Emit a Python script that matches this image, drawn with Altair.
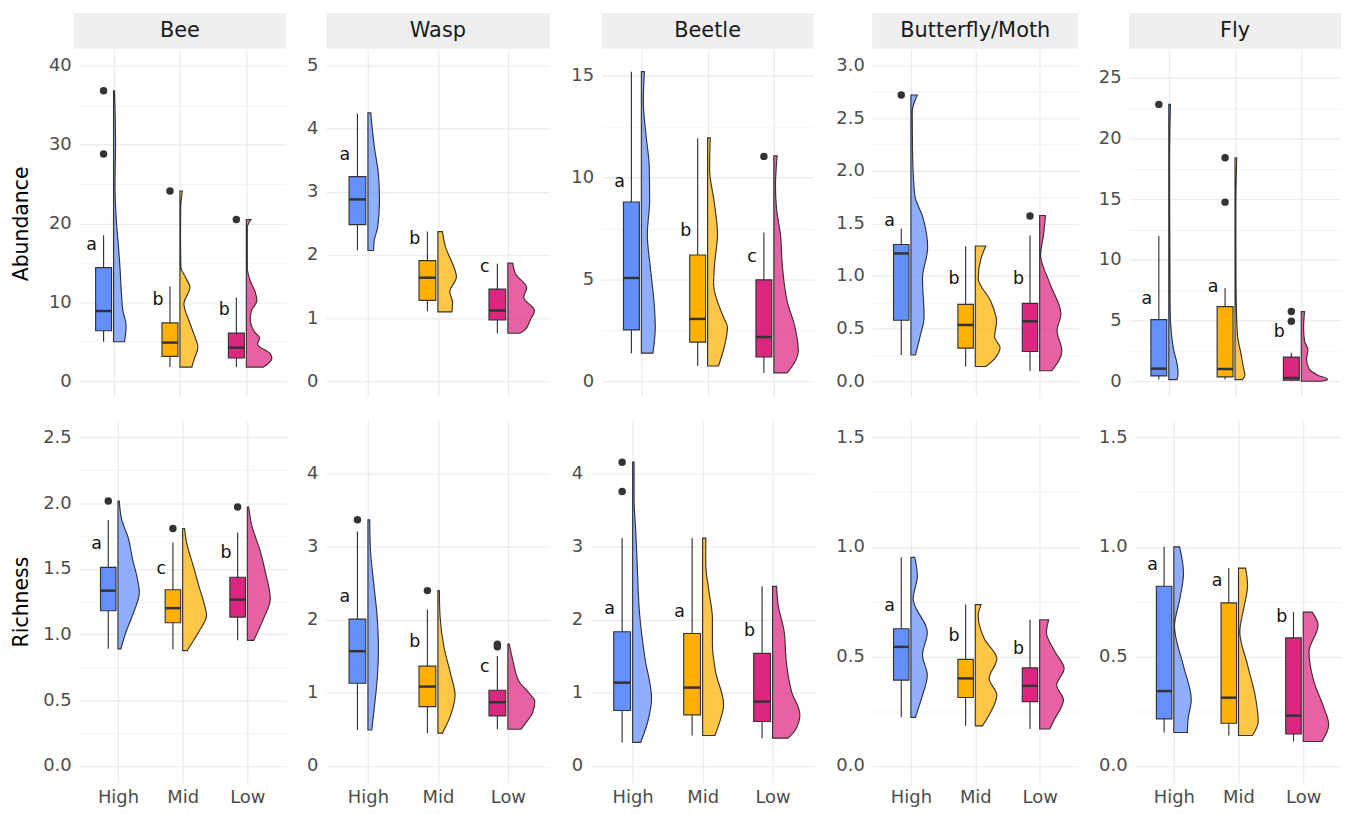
import json
import altair as alt
import pandas as pd

FONT = "DejaVu Sans"
GRID = "#EBEBEB"
INK = "#333333"

GROUPS = ["High", "Mid", "Low"]
POS = [1, 2, 3]
COLORS = ["#648FFF", "#FFB000", "#DC267F"]
TAXA = ["Bee", "Wasp", "Beetle", "Butterfly/Moth", "Fly"]

# ---------------- Abundance (top row): box summaries, order High, Mid, Low ----------------
AB_LO = {"Bee": [5.0, 1.8, 1.8], "Wasp": [2.07, 1.11, 0.76], "Beetle": [1.38, 0.75, 0.41],
         "Butterfly/Moth": [0.25, 0.14, 0.097], "Fly": [0.14, 0.14, 0.0]}
AB_Q1 = {"Bee": [6.4, 3.15, 2.95], "Wasp": [2.48, 1.28, 0.97], "Beetle": [2.52, 1.92, 1.19],
         "Butterfly/Moth": [0.58, 0.315, 0.283], "Fly": [0.44, 0.36, 0.08]}
AB_MED = {"Bee": [8.9, 4.9, 4.25], "Wasp": [2.88, 1.64, 1.12], "Beetle": [5.07, 3.06, 2.17],
          "Butterfly/Moth": [1.215, 0.535, 0.57], "Fly": [1.04, 1.01, 0.27]}
AB_Q3 = {"Bee": [14.4, 7.4, 6.1], "Wasp": [3.24, 1.91, 1.46], "Beetle": [8.8, 6.2, 4.98],
         "Butterfly/Moth": [1.30, 0.73, 0.74], "Fly": [5.08, 6.15, 1.99]}
AB_HI = {"Bee": [18.5, 12.0, 10.6], "Wasp": [4.24, 2.37, 1.86], "Beetle": [15.2, 11.93, 7.3],
         "Butterfly/Moth": [1.45, 1.28, 1.385], "Fly": [11.97, 7.68, 2.35]}
AB_OUT = {"Bee": [[36.8, 28.8], [24.1], [20.5]], "Wasp": [[], [], []], "Beetle": [[], [], [11.04]],
          "Butterfly/Moth": [[2.72], [], [1.57]], "Fly": [[22.8], [18.4, 14.75], [5.74, 4.95]]}
AB_LETTERS = {"Bee": ["a", "b", "b"], "Wasp": ["a", "b", "c"], "Beetle": ["a", "b", "c"],
              "Butterfly/Moth": ["a", "b", "b"], "Fly": ["a", "a", "b"]}
AB_LETTER_Y = {"Bee": [17.2, 10.3, 9.0], "Wasp": [3.59, 2.25, 1.81], "Beetle": [9.8, 7.4, 6.1],
               "Butterfly/Moth": [1.52, 0.97, 0.97], "Fly": [6.78, 7.79, 4.04]}

# ---------------- Richness (bottom row) ----------------
RI_LO = {"Bee": [0.89, 0.886, 0.955], "Wasp": [0.49, 0.447, 0.50], "Beetle": [0.32, 0.415, 0.378],
         "Butterfly/Moth": [0.221, 0.182, 0.168], "Fly": [0.152, 0.138, 0.111]}
RI_Q1 = {"Bee": [1.18, 1.089, 1.132], "Wasp": [1.13, 0.81, 0.683], "Beetle": [0.757, 0.697, 0.607],
         "Butterfly/Moth": [0.391, 0.312, 0.293], "Fly": [0.214, 0.194, 0.145]}
RI_MED = {"Bee": [1.333, 1.20, 1.265], "Wasp": [1.57, 1.085, 0.87], "Beetle": [1.139, 1.071, 0.88],
          "Butterfly/Moth": [0.543, 0.399, 0.365], "Fly": [0.341, 0.311, 0.229]}
RI_Q3 = {"Bee": [1.51, 1.34, 1.435], "Wasp": [2.01, 1.366, 1.034], "Beetle": [1.836, 1.813, 1.54],
         "Butterfly/Moth": [0.626, 0.486, 0.447], "Fly": [0.82, 0.744, 0.584]}
RI_HI = {"Bee": [1.87, 1.70, 1.776], "Wasp": [3.21, 2.14, 1.503], "Beetle": [3.12, 3.12, 2.459],
         "Butterfly/Moth": [0.952, 0.736, 0.667], "Fly": [1.0, 0.903, 0.702]}
RI_OUT = {"Bee": [[2.015], [1.806], [1.97]], "Wasp": [[3.37], [2.40], [1.667, 1.63]],
          "Beetle": [[4.16, 3.757], [], []], "Butterfly/Moth": [[], [], []], "Fly": [[], [], []]}
RI_LETTERS = {"Bee": ["a", "c", "b"], "Wasp": ["a", "b", "c"], "Beetle": ["a", "a", "b"],
              "Butterfly/Moth": ["a", "b", "b"], "Fly": ["a", "a", "b"]}
RI_LETTER_Y = {"Bee": [1.69, 1.50, 1.617], "Wasp": [2.31, 1.69, 1.358], "Beetle": [2.154, 2.109, 1.85],
               "Butterfly/Moth": [0.729, 0.591, 0.535], "Fly": [0.918, 0.845, 0.679]}

# ---------------- Half-violin outlines: (value, half-width in category units) ----------------
VIO_AB_BEE = {
    "High": [(36.8, 0.015), (30, 0.03), (25, 0.022), (20, 0.045), (17, 0.075), (14, 0.1),
             (11, 0.12), (9, 0.14), (7, 0.19), (5.0, 0.165)],
    "Mid": [(24.1, 0.037), (22, 0.012), (18.6, 0.009), (14.4, 0.015), (13.2, 0.082), (11.9, 0.15),
            (9.8, 0.06), (7.7, 0.135), (6.0, 0.21), (4.3, 0.27), (2.7, 0.21), (1.8, 0.18)],
    "Low": [(20.5, 0.07), (19.5, 0.015), (14.4, 0.015), (12.7, 0.06), (11.4, 0.13), (10.2, 0.16),
            (9.0, 0.08), (7.9, 0.06), (6.2, 0.13), (5.5, 0.2), (4.7, 0.17), (3.5, 0.36),
            (2.9, 0.385), (1.8, 0.26)],
}
VIO_AB_WASP = {
    "High": [(4.25, 0.04), (3.92, 0.07), (3.65, 0.10), (3.28, 0.15), (2.86, 0.165), (2.44, 0.14),
             (2.23, 0.09), (2.07, 0.08)],
    "Mid": [(2.37, 0.065), (2.12, 0.11), (1.86, 0.21), (1.65, 0.265), (1.42, 0.17), (1.25, 0.21),
            (1.10, 0.2)],
    "Low": [(1.87, 0.07), (1.7, 0.11), (1.48, 0.27), (1.33, 0.225), (1.12, 0.38), (0.97, 0.32),
            (0.81, 0.24), (0.76, 0.17)],
}
VIO_AB_BEETLE = {
    "High": [(15.2, 0.045), (13.7, 0.03), (12.1, 0.07), (10.5, 0.12), (8.85, 0.125), (7.2, 0.09),
             (5.6, 0.135), (3.95, 0.19), (2.65, 0.21), (1.38, 0.175)],
    "Mid": [(11.95, 0.04), (10.4, 0.03), (8.8, 0.1), (7.2, 0.15), (5.9, 0.11), (4.77, 0.09),
            (3.14, 0.24), (2.65, 0.3), (1.67, 0.25), (0.75, 0.165)],
    "Low": [(11.07, 0.05), (9.6, 0.025), (8.5, 0.04), (7.2, 0.1), (5.6, 0.13), (3.95, 0.2),
            (2.65, 0.32), (1.5, 0.37), (0.7, 0.27), (0.41, 0.2)],
}
VIO_AB_BUTTERFLY = {
    "High": [(2.72, 0.1), (2.56, 0.02), (2.18, 0.025), (1.77, 0.06), (1.55, 0.19), (1.27, 0.26),
             (0.98, 0.18), (0.61, 0.205), (0.42, 0.14), (0.25, 0.07)],
    "Mid": [(1.285, 0.165), (1.17, 0.09), (0.98, 0.045), (0.76, 0.24), (0.57, 0.33), (0.42, 0.30),
            (0.32, 0.385), (0.23, 0.32), (0.14, 0.165)],
    "Low": [(1.575, 0.09), (1.39, 0.06), (1.2, 0.015), (0.92, 0.165), (0.64, 0.33), (0.48, 0.27),
            (0.29, 0.345), (0.1, 0.19)],
}
VIO_AB_FLY = {
    "High": [(22.8, 0.025), (18, 0.012), (12, 0.015), (6, 0.02), (3.9, 0.04), (2.54, 0.075),
             (1.45, 0.125), (0.63, 0.14), (0.14, 0.125)],
    "Mid": [(18.4, 0.025), (14, 0.012), (8, 0.015), (3.9, 0.035), (2.27, 0.09), (1.18, 0.125),
            (0.49, 0.15), (0.14, 0.11)],
    "Low": [(5.74, 0.05), (4.45, 0.035), (3.3, 0.05), (2.6, 0.1), (1.8, 0.08), (1.0, 0.12),
            (0.5, 0.25), (0.15, 0.4), (0.0, 0.3)],
}
VIO_RI_BEE = {
    "High": [(2.015, 0.02), (1.88, 0.055), (1.725, 0.165), (1.573, 0.225), (1.447, 0.29),
             (1.32, 0.33), (1.145, 0.225), (1.02, 0.125), (0.89, 0.045)],
    "Mid": [(1.806, 0.03), (1.70, 0.06), (1.52, 0.165), (1.37, 0.25), (1.22, 0.34), (1.145, 0.37),
            (1.02, 0.25), (0.90, 0.1), (0.876, 0.07)],
    "Low": [(1.97, 0.02), (1.826, 0.07), (1.65, 0.19), (1.473, 0.28), (1.27, 0.355), (1.12, 0.25),
            (0.955, 0.1)],
}
VIO_RI_WASP = {
    "High": [(3.37, 0.025), (2.97, 0.035), (2.52, 0.08), (2.06, 0.13), (1.61, 0.15), (1.155, 0.13),
             (0.79, 0.09), (0.49, 0.055)],
    "Mid": [(2.40, 0.02), (2.06, 0.03), (1.61, 0.09), (1.245, 0.185), (0.97, 0.245), (0.70, 0.185),
            (0.447, 0.065)],
    "Low": [(1.667, 0.02), (1.45, 0.07), (1.155, 0.16), (1.0, 0.3), (0.88, 0.385), (0.72, 0.35),
            (0.58, 0.25), (0.50, 0.19)],
}
VIO_RI_BEETLE = {
    "High": [(4.16, 0.02), (3.66, 0.02), (3.2, 0.045), (2.75, 0.065), (2.07, 0.1), (1.48, 0.175),
             (0.93, 0.27), (0.62, 0.22), (0.32, 0.115)],
    "Mid": [(3.12, 0.045), (2.75, 0.045), (2.39, 0.09), (2.02, 0.14), (1.66, 0.14), (1.29, 0.185),
            (0.84, 0.3), (0.56, 0.23), (0.415, 0.175)],
    "Low": [(2.459, 0.057), (2.2, 0.08), (1.84, 0.165), (1.39, 0.2), (1.02, 0.27), (0.70, 0.39),
            (0.47, 0.31), (0.378, 0.22)],
}
VIO_RI_BUTTERFLY = {
    "High": [(0.952, 0.06), (0.868, 0.1), (0.762, 0.035), (0.61, 0.255), (0.505, 0.18),
             (0.414, 0.255), (0.308, 0.165), (0.221, 0.07)],
    "Mid": [(0.736, 0.09), (0.686, 0.045), (0.58, 0.14), (0.489, 0.335), (0.398, 0.215),
            (0.323, 0.335), (0.232, 0.215), (0.182, 0.11)],
    "Low": [(0.667, 0.14), (0.61, 0.105), (0.52, 0.24), (0.444, 0.38), (0.368, 0.265),
            (0.30, 0.37), (0.217, 0.24), (0.168, 0.155)],
}
VIO_RI_FLY = {
    "High": [(1.0, 0.09), (0.879, 0.15), (0.758, 0.09), (0.637, 0.01), (0.455, 0.15),
             (0.303, 0.27), (0.212, 0.22), (0.152, 0.21)],
    "Mid": [(0.903, 0.11), (0.823, 0.14), (0.732, 0.09), (0.611, 0.02), (0.46, 0.14),
            (0.308, 0.265), (0.202, 0.305), (0.138, 0.215)],
    "Low": [(0.702, 0.14), (0.642, 0.23), (0.52, 0.09), (0.385, 0.165), (0.264, 0.32),
            (0.188, 0.395), (0.111, 0.29)],
}
AB_VIOLINS = {"Bee": VIO_AB_BEE, "Wasp": VIO_AB_WASP, "Beetle": VIO_AB_BEETLE,
              "Butterfly/Moth": VIO_AB_BUTTERFLY, "Fly": VIO_AB_FLY}
RI_VIOLINS = {"Bee": VIO_RI_BEE, "Wasp": VIO_RI_WASP, "Beetle": VIO_RI_BEETLE,
              "Butterfly/Moth": VIO_RI_BUTTERFLY, "Fly": VIO_RI_FLY}

# ---------------- Axis tick values ----------------
AB_DOMAIN = {"Bee": [-2, 42], "Wasp": [-0.25, 5.25], "Beetle": [-0.775, 16.275],
             "Butterfly/Moth": [-0.15, 3.15], "Fly": [-1.3, 27.3]}
AB_MAJOR = {"Bee": [0, 10, 20, 30, 40], "Wasp": [0, 1, 2, 3, 4, 5], "Beetle": [0, 5, 10, 15],
            "Butterfly/Moth": [0, 0.5, 1.0, 1.5, 2.0, 2.5, 3.0], "Fly": [0, 5, 10, 15, 20, 25]}
AB_MINOR = {"Bee": [5, 15, 25, 35], "Wasp": [0.5, 1.5, 2.5, 3.5, 4.5], "Beetle": [2.5, 7.5, 12.5],
            "Butterfly/Moth": [0.25, 0.75, 1.25, 1.75, 2.25, 2.75], "Fly": [2.5, 7.5, 12.5, 17.5, 22.5]}
AB_FMT = {"Bee": "d", "Wasp": "d", "Beetle": "d", "Butterfly/Moth": ".1f", "Fly": "d"}

RI_DOMAIN = {"Bee": [-0.125, 2.625], "Wasp": [-0.225, 4.725], "Beetle": [-0.225, 4.725],
             "Butterfly/Moth": [-0.075, 1.575], "Fly": [-0.075, 1.575]}
RI_MAJOR = {"Bee": [0, 0.5, 1.0, 1.5, 2.0, 2.5], "Wasp": [0, 1, 2, 3, 4], "Beetle": [0, 1, 2, 3, 4],
            "Butterfly/Moth": [0, 0.5, 1.0, 1.5], "Fly": [0, 0.5, 1.0, 1.5]}
RI_MINOR = {"Bee": [0.25, 0.75, 1.25, 1.75, 2.25], "Wasp": [0.5, 1.5, 2.5, 3.5, 4.5],
            "Beetle": [0.5, 1.5, 2.5, 3.5, 4.5], "Butterfly/Moth": [0.25, 0.75, 1.25],
            "Fly": [0.25, 0.75, 1.25]}
RI_FMT = {"Bee": ".1f", "Wasp": "d", "Beetle": "d", "Butterfly/Moth": ".1f", "Fly": ".1f"}

# ---------------- Layout (panel sizes, y-axis extents, x-domain starts) ----------------
TOP_W = [208, 225, 213, 207, 213]
TOP_EXT = [42, 40, 52, 59, 51]
TOP_X0 = [0.482, 0.4, 0.4, 0.4, 0.4]
TOP_H = 349
BOT_W = [208, 225, 225, 207, 208]
BOT_EXT = [42, 40, 41, 58, 57]
BOT_X0 = [0.4, 0.4, 0.4, 0.4, 0.4]
BOT_H = 363


def make_panel(taxon, stats, outs, letters, letter_y, violin, domain, majors, minors, fmt,
               width, height, extent, x0, ytitle, strip, xlabels):
    lo, q1, med, q3, hi = stats
    box = pd.DataFrame({"group": GROUPS, "pos": POS, "lo": lo, "q1": q1, "med": med,
                        "q3": q3, "hi": hi, "letter": letters, "ly": letter_y})
    odf = pd.DataFrame([{"group": g, "pos": p, "v": v}
                        for g, p, vals in zip(GROUPS, POS, outs) for v in vals],
                       columns=["group", "pos", "v"])
    vdf = pd.DataFrame([{"group": g, "pos": p, "v": v, "w": w}
                        for g, p in zip(GROUPS, POS) for v, w in violin[g]])

    xscale = alt.Scale(domain=[x0, 3.6], nice=False, zero=False)
    yscale = alt.Scale(domain=domain, nice=False, zero=False)
    major_test = f"indexof({json.dumps(majors)}, datum.value) >= 0"
    yaxis = alt.Axis(
        values=sorted(majors + minors), format=fmt,
        labelExpr=f"{major_test} ? datum.label : ''",
        labelOverlap=False, labelFontSize=18, labelColor="#4D4D4D", labelFont=FONT,
        labelPadding=8, ticks=False, tickSize=0, domain=False,
        grid=True, gridColor=GRID,
        gridWidth={"condition": {"test": major_test, "value": 1.2}, "value": 0.6},
        minExtent=extent, maxExtent=extent,
        title=ytitle, titleFontSize=20.5, titleFont=FONT, titleColor="#000000",
        titleFontWeight="normal", titlePadding=6,
    )
    if xlabels:
        xaxis = alt.Axis(values=POS, labelExpr="['High','Mid','Low'][datum.value - 1]",
                         labelFontSize=18, labelColor="#4D4D4D", labelFont=FONT,
                         labelPadding=6, labelFlush=False, labelOverlap=False,
                         ticks=False, tickSize=0, domain=False, grid=True, gridColor=GRID,
                         gridWidth=1.2, title=None)
    else:
        xaxis = alt.Axis(values=POS, labels=False, ticks=False, tickSize=0, domain=False,
                         grid=True, gridColor=GRID, gridWidth=1.2, title=None,
                         minExtent=0, maxExtent=0)

    def X(f):
        return alt.X(f, type="quantitative", scale=xscale, axis=xaxis)

    def Y(f):
        return alt.Y(f, type="quantitative", scale=yscale, axis=yaxis)

    fill = alt.Fill("group:N", scale=alt.Scale(domain=GROUPS, range=COLORS), legend=None)

    layers = []
    if strip:
        # strip spans the whole panel including the part left of the x-domain start
        left = -(x0 - 0.4) * width / (3.6 - x0)
        sdf = pd.DataFrame({"taxon": [taxon]})
        layers.append(alt.Chart(sdf).mark_rect(color="#EFEFEF").encode(
            x=alt.value(left), x2=alt.value(width), y=alt.value(-37), y2=alt.value(-1)))
        layers.append(alt.Chart(sdf).mark_text(fontSize=21, color="#1A1A1A", font=FONT,
                                               baseline="middle").encode(
            x=alt.value((left + width) / 2), y=alt.value(-18.5), text="taxon:N"))

    violin_layer = alt.Chart(vdf).transform_calculate(xv="datum.pos + datum.w").mark_area(
        orient="horizontal", interpolate="monotone", fillOpacity=0.72, stroke=INK,
        strokeWidth=1.15).encode(x=X("xv"), x2=alt.X2("pos"), y=Y("v"), fill=fill,
                                 detail="group:N")
    whisk = alt.Chart(box).transform_calculate(xb="datum.pos - 0.15").mark_rule(
        color=INK, strokeWidth=1.15).encode(x=X("xb"), y=Y("lo"), y2=alt.Y2("hi"))
    boxes = alt.Chart(box).transform_calculate(
        xl="datum.pos - 0.27", xr="datum.pos - 0.03").mark_rect(
        stroke=INK, strokeWidth=1.15).encode(x=X("xl"), x2=alt.X2("xr"), y=Y("q1"),
                                             y2=alt.Y2("q3"), fill=fill)
    meds = alt.Chart(box).transform_calculate(
        xl="datum.pos - 0.27", xr="datum.pos - 0.03").mark_rule(
        color=INK, strokeWidth=2.5).encode(x=X("xl"), x2=alt.X2("xr"), y=Y("med"))
    layers += [violin_layer, whisk, boxes, meds]
    if len(odf):
        layers.append(alt.Chart(odf).transform_calculate(xb="datum.pos - 0.15").mark_circle(
            size=56, color=INK, opacity=1).encode(x=X("xb"), y=Y("v")))
    layers.append(alt.Chart(box).transform_calculate(xt="datum.pos - 0.33").mark_text(
        fontSize=17.5, color="#111111", font=FONT, baseline="middle").encode(
        x=X("xt"), y=Y("ly"), text="letter:N"))
    return alt.layer(*layers).properties(width=width, height=height)


top_panels = []
bot_panels = []
for i, t in enumerate(TAXA):
    top_panels.append(make_panel(
        t, (AB_LO[t], AB_Q1[t], AB_MED[t], AB_Q3[t], AB_HI[t]), AB_OUT[t], AB_LETTERS[t],
        AB_LETTER_Y[t], AB_VIOLINS[t], AB_DOMAIN[t], AB_MAJOR[t], AB_MINOR[t], AB_FMT[t],
        TOP_W[i], TOP_H, TOP_EXT[i], TOP_X0[i], "Abundance" if i == 0 else None, True, False))
    bot_panels.append(make_panel(
        t, (RI_LO[t], RI_Q1[t], RI_MED[t], RI_Q3[t], RI_HI[t]), RI_OUT[t], RI_LETTERS[t],
        RI_LETTER_Y[t], RI_VIOLINS[t], RI_DOMAIN[t], RI_MAJOR[t], RI_MINOR[t], RI_FMT[t],
        BOT_W[i], BOT_H, BOT_EXT[i], BOT_X0[i], "Richness" if i == 0 else None, False, True))

top = alt.hconcat(*top_panels, spacing=0)
bottom = alt.hconcat(*bot_panels, spacing=0)
chart = alt.vconcat(top, bottom, spacing=24).properties(
    padding={"left": 3.5, "top": 3, "right": 0, "bottom": 0}
).configure(font=FONT, background="white").configure_view(stroke=None)

chart.save("out.html", embed_options={"renderer": "svg", "actions": False})
